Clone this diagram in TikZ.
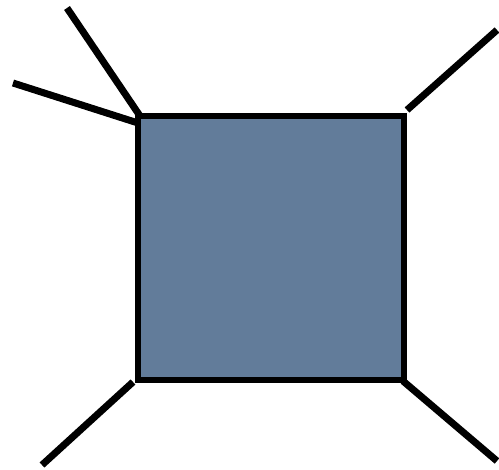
\documentclass[tikz,border=0pt]{standalone}
\begin{document}
\begin{tikzpicture}[x=1pt,y=-1pt,
  edge/.style={line width=7pt,black},
  box/.style={draw=black,line width=6.5pt,fill={rgb,255:red,98;green,124;blue,154},minimum width=266pt,minimum height=264pt,inner sep=0pt,outer sep=0pt}]
\useasboundingbox (0,0) rectangle (499,470);
\node[box] (sq) at (271,248) {};
\coordinate (a) at (67,8);
\coordinate (b) at (13,83);
\coordinate (c) at (497,30);
\coordinate (d) at (42,465);
\coordinate (e) at (497,461);
\coordinate (tl1) at (140,116);
\coordinate (tl2) at (138,123);
\draw[edge] (a) -- (tl1);
\draw[edge] (b) -- (tl2);
\draw[edge] (c) -- (407,110);
\draw[edge] (d) -- (133,382);
\draw[edge] (e) -- (403,381);
\end{tikzpicture}
\end{document}
